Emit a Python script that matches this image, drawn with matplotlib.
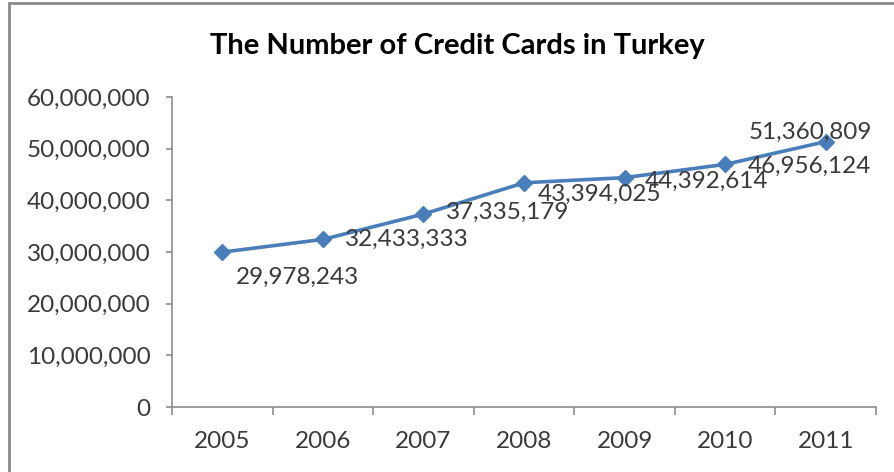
import matplotlib
matplotlib.use("Agg")
import matplotlib.pyplot as plt
from matplotlib.patches import Rectangle
from matplotlib.ticker import FuncFormatter, FixedLocator

years = ["2005", "2006", "2007", "2008", "2009", "2010", "2011"]
cards = [29978243, 32433333, 37335179, 43394025, 44392614, 46956124, 51360809]
# label offsets (points) relative to each marker
label_offsets = [(10, -18), (16, 0), (16, 1.5), (10, -8.5), (14.5, -3), (16.5, -1.5), (-55.5, 7)]

plt.rcParams["font.family"] = ["Lato", "DejaVu Sans"]
TXT = "#3a3a3a"
GRID = "#8c8c8c"

fig = plt.figure(figsize=(8.95, 4.72), dpi=100)
ax = fig.add_axes([172 / 895, 1 - 407 / 472, 704 / 895, 310 / 472])

x = list(range(len(years)))
ax.plot(x, cards, color="#4A7EBB", lw=2.6, marker="D", ms=8,
        markeredgecolor="#4A7EBB", zorder=3)

for xi, v, (dx, dy) in zip(x, cards, label_offsets):
    ax.annotate(f"{v:,}", (xi, v), xytext=(dx, dy), textcoords="offset points",
                ha="left", va="center", fontsize=17.5, color=TXT)

ax.set_xlim(-0.5, len(years) - 0.5)
ax.set_ylim(0, 60_000_000)
ax.set_yticks(range(0, 60_000_001, 10_000_000))
ax.yaxis.set_major_formatter(FuncFormatter(lambda v, p: f"{int(v):,}"))
ax.set_xticks(x)
ax.set_xticklabels(years)
ax.xaxis.set_minor_locator(FixedLocator([i - 0.5 for i in range(len(years) + 1)]))

for s in ["top", "right"]:
    ax.spines[s].set_visible(False)
for s in ["left", "bottom"]:
    ax.spines[s].set_color(GRID)
    ax.spines[s].set_linewidth(1.2)

ax.tick_params(axis="x", which="major", length=0, labelsize=17.5,
               labelcolor=TXT, pad=17)
ax.tick_params(axis="x", which="minor", length=6, color=GRID, width=1.2)
ax.tick_params(axis="y", length=4.5, color=GRID, width=1.2, labelsize=17.5,
               labelcolor=TXT, pad=11)

fig.text(457 / 895, 1 - 46 / 472, "The Number of Credit Cards in Turkey",
         ha="center", va="center", fontsize=21, fontweight="bold", color="black")

# outer chart frame: only the top and left edges are visible in the crop
fig.patches.append(Rectangle((9 / 895, -0.2), 1.2, 1.2 - 3 / 472, transform=fig.transFigure,
                             fill=False, edgecolor="#8a8a8a", lw=2, zorder=0))

fig.savefig("out.png", dpi=100, facecolor="white")
